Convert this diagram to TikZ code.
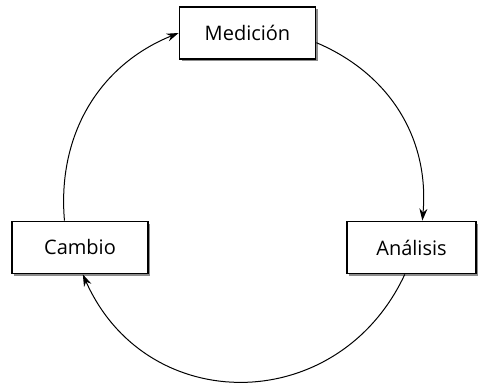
\documentclass[tikz,border=0pt]{standalone}
\usepackage{fontspec}
\setsansfont{Open Sans}
\usetikzlibrary{shadows,arrows.meta}
\begin{document}
\begin{tikzpicture}[x=0.5pt, y=0.5pt, >={Stealth[length=6pt,width=4pt]}, line width=0.5pt,
  box/.style={draw, line width=0.9pt, fill=white, minimum width=68pt, minimum height=26pt,
    font=\sffamily, drop shadow={shadow xshift=1.2pt, shadow yshift=-1.2pt, fill=black!45, opacity=1}}]
\useasboundingbox (0,0) rectangle (478,385);
\node[box] (medicion) at (247.5,352) {Medición};
\node[box] (cambio) at (80,137.5) {Cambio};
\node[box, minimum width=64.5pt] (analisis) at (411.5,137.5) {Análisis};
\draw[->] (cambio.120) to[out=95,in=202] (medicion.west);
\draw[->] (medicion.-8) to[out=-23,in=85] (analisis.68);
\draw[->] (analisis.-104) to[out=-115,in=-66,looseness=1.25] (cambio.-84);
\end{tikzpicture}
\end{document}
